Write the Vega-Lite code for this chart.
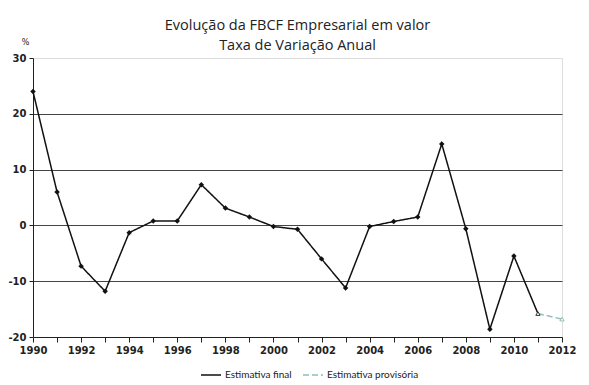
{
  "$schema": "https://vega.github.io/schema/vega-lite/v6.json",
  "width": 529,
  "height": 279,
  "autosize": "none",
  "padding": {"left": 33, "top": 58, "right": 27, "bottom": 48},
  "background": "white",
  "title": {
    "text": ["Evolução da FBCF Empresarial em valor", "Taxa de Variação Anual"],
    "font": "Open Sans",
    "fontSize": 14.5,
    "fontWeight": "normal",
    "color": "#222",
    "lineHeight": 20,
    "offset": -15,
    "anchor": "middle"
  },
  "data": {
    "values": [
      {"ano": 1990, "valor": 24.0, "serie": "Estimativa final"},
      {"ano": 1991, "valor": 6.0, "serie": "Estimativa final"},
      {"ano": 1992, "valor": -7.3, "serie": "Estimativa final"},
      {"ano": 1993, "valor": -11.8, "serie": "Estimativa final"},
      {"ano": 1994, "valor": -1.3, "serie": "Estimativa final"},
      {"ano": 1995, "valor": 0.8, "serie": "Estimativa final"},
      {"ano": 1996, "valor": 0.8, "serie": "Estimativa final"},
      {"ano": 1997, "valor": 7.3, "serie": "Estimativa final"},
      {"ano": 1998, "valor": 3.1, "serie": "Estimativa final"},
      {"ano": 1999, "valor": 1.5, "serie": "Estimativa final"},
      {"ano": 2000, "valor": -0.2, "serie": "Estimativa final"},
      {"ano": 2001, "valor": -0.7, "serie": "Estimativa final"},
      {"ano": 2002, "valor": -6.0, "serie": "Estimativa final"},
      {"ano": 2003, "valor": -11.2, "serie": "Estimativa final"},
      {"ano": 2004, "valor": -0.2, "serie": "Estimativa final"},
      {"ano": 2005, "valor": 0.7, "serie": "Estimativa final"},
      {"ano": 2006, "valor": 1.5, "serie": "Estimativa final"},
      {"ano": 2007, "valor": 14.6, "serie": "Estimativa final"},
      {"ano": 2008, "valor": -0.6, "serie": "Estimativa final"},
      {"ano": 2009, "valor": -18.6, "serie": "Estimativa final"},
      {"ano": 2010, "valor": -5.5, "serie": "Estimativa final"},
      {"ano": 2011, "valor": -15.8, "serie": "Estimativa final"},
      {"ano": 2011, "valor": -15.8, "serie": "Estimativa provisória"},
      {"ano": 2012, "valor": -16.8, "serie": "Estimativa provisória"}
    ]
  },
  "encoding": {
    "x": {
      "field": "ano",
      "type": "quantitative",
      "scale": {"domain": [1990, 2012], "nice": false, "zero": false},
      "axis": {
        "title": null,
        "values": [1990,1991,1992,1993,1994,1995,1996,1997,1998,1999,2000,2001,2002,2003,2004,2005,2006,2007,2008,2009,2010,2011,2012],
        "labelExpr": "datum.value % 2 == 0 ? datum.value : ''",
        "format": "d",
        "grid": false,
        "domainColor": "#222",
        "tickColor": "#222",
        "tickSize": 5,
        "labelFont": "DejaVu Sans",
        "labelFontWeight": "bold",
        "labelFontSize": 10,
        "labelColor": "#222",
        "labelPadding": 3,
        "labelFlush": false,
        "labelBound": false,
        "labelOverlap": false
      }
    },
    "y": {
      "field": "valor",
      "type": "quantitative",
      "scale": {"domain": [-20, 30], "nice": false},
      "axis": {
        "title": "%",
        "titleAngle": 0,
        "titleX": -8,
        "titleY": -12,
        "titleFontSize": 8,
        "titleFontWeight": "normal",
        "titleFont": "DejaVu Sans",
        "titleColor": "#222",
        "values": [-20, -10, 0, 10, 20, 30],
        "labelExpr": "datum.value < 0 ? '-' + abs(datum.value) : '' + datum.value",
        "gridColor": "#444",
        "gridOpacity": {"condition": {"test": "datum.value == 30 || datum.value == -20", "value": 0}, "value": 1},
        "domainColor": "#222",
        "tickColor": "#222",
        "tickSize": 4,
        "labelFont": "DejaVu Sans",
        "labelFontWeight": "bold",
        "labelFontSize": 10,
        "labelColor": "#222",
        "labelPadding": 3,
        "labelFlush": false
      }
    }
  },
  "layer": [
    {
      "mark": {"type": "line", "strokeWidth": 1.5},
      "encoding": {
        "color": {
          "field": "serie",
          "type": "nominal",
          "scale": {"domain": ["Estimativa final", "Estimativa provisória"], "range": ["#111111", "#8fbfb8"]},
          "legend": {
            "title": null,
            "orient": "none",
            "legendX": 167,
            "legendY": 306,
            "direction": "horizontal",
            "symbolType": "stroke",
            "symbolSize": 400,
            "symbolStrokeWidth": 1.5,
            "labelFont": "Lato",
            "labelFontSize": 10,
            "labelColor": "#222",
            "labelOffset": 3,
            "columnPadding": 8
          }
        },
        "strokeDash": {
          "field": "serie",
          "type": "nominal",
          "scale": {"domain": ["Estimativa final", "Estimativa provisória"], "range": [[1, 0], [6, 3]]},
          "legend": null
        }
      }
    },
    {
      "transform": [{"filter": "datum.serie == 'Estimativa final' && datum.ano < 2011"}],
      "mark": {"type": "point", "shape": "diamond", "filled": true, "size": 30, "color": "#111111", "opacity": 1}
    },
    {
      "transform": [{"filter": "datum.serie == 'Estimativa provisória'"}],
      "mark": {"type": "point", "shape": "triangle-up", "filled": true, "size": 18, "fill": "white", "strokeWidth": 1, "opacity": 1},
      "encoding": {
        "stroke": {"condition": {"test": "datum.ano == 2011", "value": "#333333"}, "value": "#8fbfb8"}
      }
    }
  ]
}
